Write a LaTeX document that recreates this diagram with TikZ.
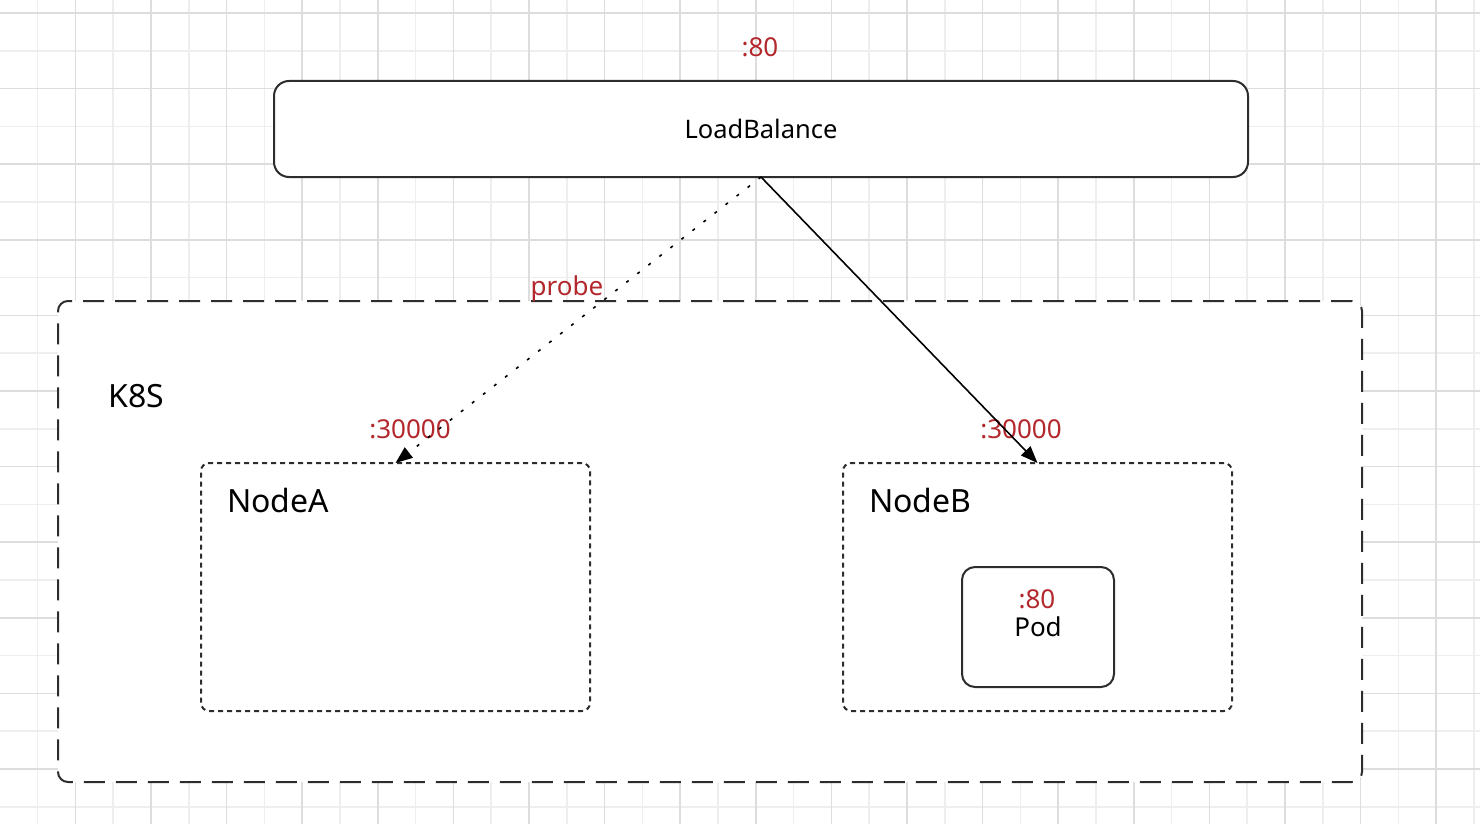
\documentclass[tikz,border=0pt]{standalone}
\usepackage{fontspec}
\setmainfont{Noto Sans}
\usetikzlibrary{arrows.meta,positioning}
\definecolor{portred}{RGB}{179,40,45}
\definecolor{majorgray}{RGB}{221,221,221}
\definecolor{minorgray}{RGB}{238,238,238}
\definecolor{edgegray}{RGB}{45,45,45}
\begin{document}
\begin{tikzpicture}[x=1pt, y=-1pt,
    minorline/.style={minorgray, line width=1.6pt},
    majorline/.style={majorgray, line width=1.6pt},
    lbbox/.style={draw=edgegray, line width=2pt, fill=white, rounded corners=15pt, inner sep=0pt, outer sep=0pt},
    k8sbox/.style={draw=edgegray, line width=2pt, fill=white, rounded corners=10pt, dash pattern=on 21pt off 11pt, inner sep=0pt, outer sep=0pt},
    hostbox/.style={draw=edgegray, line width=2pt, rounded corners=8pt, dash pattern=on 5pt off 4pt, inner sep=0pt, outer sep=0pt},
    podbox/.style={draw=edgegray, line width=2pt, fill=white, rounded corners=13pt, inner sep=0pt, outer sep=0pt},
    port/.style={text=portred, inner sep=0pt, anchor=base, font=\fontsize{26}{30}\selectfont},
    title/.style={inner sep=0pt, anchor=base west, font=\fontsize{32}{38}\selectfont},
    flow/.style={line width=1.6pt, -{Triangle[length=17pt,width=13pt]}}]
    \useasboundingbox (0,0) rectangle (1480,824);
    % background grid
    \foreach \k in {-1,1,...,37} \draw[minorline] ({75.4+37.8*\k},0) -- ++(0,824);
    \foreach \k in {1,3,...,21} \draw[minorline] (0,{13+37.8*\k}) -- ++(1480,0);
    \foreach \k in {0,2,...,36} \draw[majorline] ({75.4+37.8*\k},0) -- ++(0,824);
    \foreach \k in {0,2,...,20} \draw[majorline] (0,{13+37.8*\k}) -- ++(1480,0);

    \node[k8sbox, minimum width=1304pt, minimum height=481pt] (k8s) at (710,541.5) {};
    \node[lbbox, minimum width=974pt, minimum height=96pt, font=\fontsize{25.5}{30}\selectfont] (lb) at (761,129) {LoadBalance};
    \node[port] (lbport) at (760,57) {:80};

    \node[title] (k8slabel) at (108,407) {K8S};
    \node[hostbox, minimum width=389pt, minimum height=248pt] (nodeA) at (395.5,587) {};
    \node[hostbox, minimum width=389pt, minimum height=248pt] (nodeB) at (1037.5,587) {};
    \node[title] (nodeAlabel) at (227,512) {NodeA};
    \node[title] (nodeBlabel) at (869,512) {NodeB};

    \node[podbox, minimum width=152pt, minimum height=120pt, font=\fontsize{26}{30}\selectfont] (pod) at (1038,627) {Pod};
    \node[port] (podport) at (1037,608) {:80};

    \node[port] (portA) at (410,438) {:30000};
    \node[port] (portB) at (1021,438) {:30000};
    \node[port] (probe) at (567,295) {probe};

    \draw[flow, dash pattern=on 3pt off 11pt] (lb.south) -- (nodeA.north);
    \draw[flow] (lb.south) -- (nodeB.north);
\end{tikzpicture}
\end{document}
